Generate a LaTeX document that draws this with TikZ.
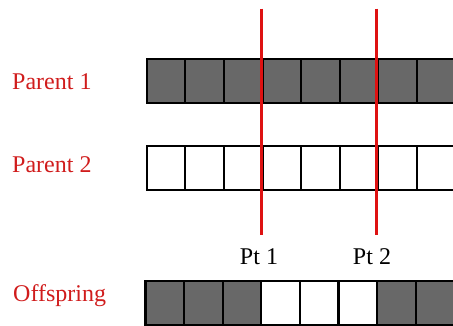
\documentclass[tikz,border=0pt]{standalone}
\usepackage{fontspec}
\setmainfont{Liberation Serif}
\definecolor{cutred}{RGB}{222,18,18}
\definecolor{labelred}{RGB}{208,28,28}
\definecolor{genegray}{RGB}{104,104,104}
\begin{document}
\begin{tikzpicture}[x=1pt,y=-1pt,
  gene/.style={draw=black,line width=2.2pt,minimum width=38.6pt,minimum height=44pt,inner sep=0pt,anchor=north west},
  dark/.style={gene,fill=genegray},
  light/.style={gene,fill=white},
  rowlabel/.style={text=labelred,inner sep=0pt,anchor=base west,font=\fontsize{24}{28}\selectfont},
  ptlabel/.style={text=black,inner sep=0pt,anchor=base,font=\fontsize{24}{28}\selectfont},
  cut/.style={draw=cutred,line width=3pt}]
\useasboundingbox (0,0) rectangle (453,325);
\begin{scope}
\clip (0,0) rectangle (453,325);
% parent 1: all dark genes
\foreach \i in {0,...,7}
  \node[dark] (pa\i) at (145.6+38.6*\i,58) {};
% parent 2: all light genes
\foreach \i in {0,...,7}
  \node[light] (pb\i) at (145.6+38.6*\i,144.5) {};
% offspring: dark, light, dark segments
\foreach \i in {0,1,2,6,7}
  \node[dark] (of\i) at (144.4+38.6*\i,279.5) {};
\foreach \i in {3,4,5}
  \node[light] (of\i) at (144.4+38.6*\i,279.5) {};
% cut points
\coordinate (c1top) at (261.3,8.5);
\coordinate (c1bot) at (261.3,235);
\coordinate (c2top) at (376.8,8.5);
\coordinate (c2bot) at (376.8,235);
\draw[cut] (c1top) -- (c1bot);
\draw[cut] (c2top) -- (c2bot);
\end{scope}
% labels
\node[rowlabel] (lp1) at (12,89.3) {Parent 1};
\node[rowlabel] (lp2) at (12,172.7) {Parent 2};
\node[rowlabel] (lof) at (13,301.5) {Offspring};
\node[ptlabel] (pt1) at (259,264) {Pt 1};
\node[ptlabel] (pt2) at (372,264) {Pt 2};
\end{tikzpicture}
\end{document}
